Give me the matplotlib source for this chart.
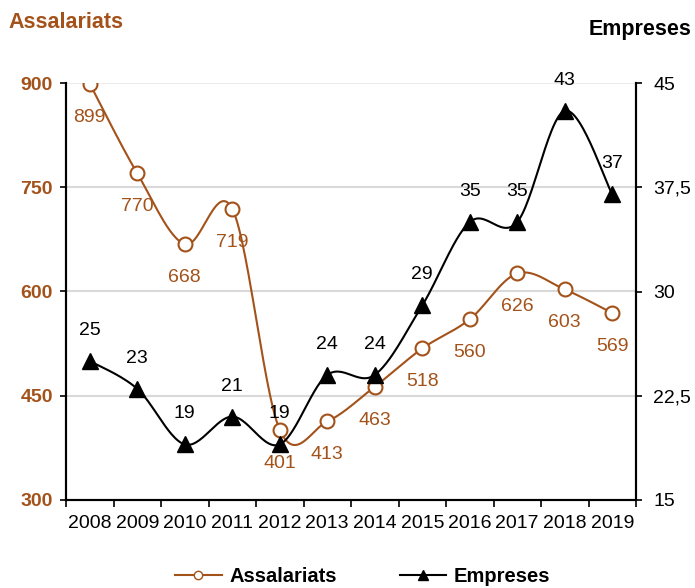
import numpy as np
import matplotlib
matplotlib.use('Agg')
import matplotlib.pyplot as plt
from matplotlib.lines import Line2D

years = ['2008', '2009', '2010', '2011', '2012', '2013', '2014', '2015', '2016', '2017', '2018', '2019']
assalariats = [899, 770, 668, 719, 401, 413, 463, 518, 560, 626, 603, 569]
empreses = [25, 23, 19, 21, 19, 24, 24, 29, 35, 35, 43, 37]
left_ticks = [300, 450, 600, 750, 900]
right_ticks = [15, 22.5, 30, 37.5, 45]
right_labels = ['15', '22,5', '30', '37,5', '45']

brown = '#A3521A'
plt.rcParams['font.family'] = ['Liberation Sans', 'DejaVu Sans']


def smooth(y, n=30):
    # excel style bezier smoothing (catmull-rom control points)
    x = np.arange(len(y), dtype=float)
    y = np.asarray(y, dtype=float)
    xs, ys = [], []
    for i in range(len(y) - 1):
        p0 = (x[max(i - 1, 0)], y[max(i - 1, 0)])
        p1 = (x[i], y[i])
        p2 = (x[i + 1], y[i + 1])
        p3 = (x[min(i + 2, len(y) - 1)], y[min(i + 2, len(y) - 1)])
        c1 = (p1[0] + (p2[0] - p0[0]) / 6, p1[1] + (p2[1] - p0[1]) / 6)
        c2 = (p2[0] - (p3[0] - p1[0]) / 6, p2[1] - (p3[1] - p1[1]) / 6)
        t = np.linspace(0, 1, n)
        for a, b, c, d, out in [(p1[0], c1[0], c2[0], p2[0], xs), (p1[1], c1[1], c2[1], p2[1], ys)]:
            out.extend((1 - t) ** 3 * a + 3 * (1 - t) ** 2 * t * b + 3 * (1 - t) * t ** 2 * c + t ** 3 * d)
    return xs, ys


fig = plt.figure(figsize=(6.95, 5.88), dpi=100)
ax = fig.add_axes([66 / 695, 1 - 500 / 588, 570 / 695, 417 / 588])
ax2 = ax.twinx()

x = np.arange(len(years))

ax.set_ylim(300, 900)
ax.set_xlim(-0.5, 11.5)
for v in left_ticks[1:-1]:
    ax.axhline(v, color='#d9d9d9', lw=1.5, zorder=0)
ax.axhline(left_ticks[-1], color='#ececec', lw=1.5, zorder=0)

sx, sy = smooth(assalariats)
ax.plot(sx, sy, color=brown, lw=1.5, zorder=2)
ax.plot(x, assalariats, 'o', ms=10, mfc='white', mec=brown, mew=1.5, zorder=3)
for xi, v in zip(x, assalariats):
    ax.annotate(str(v), (xi, v), xytext=(0, -24), textcoords='offset points',
                ha='center', va='center', fontsize=14, color=brown)

ax2.set_ylim(15, 45)
ex, ey = smooth(empreses)
ax2.plot(ex, ey, color='black', lw=1.5, zorder=2)
ax2.plot(x, empreses, '^', ms=11, color='black', zorder=3)
for xi, v in zip(x, empreses):
    ax2.annotate(str(v), (xi, v), xytext=(0, 22), textcoords='offset points',
                 ha='center', va='center', fontsize=14, color='black')

ax.set_yticks(left_ticks)
ax.set_yticklabels([str(v) for v in left_ticks], fontsize=14, fontweight='bold', color=brown)
ax.tick_params(axis='y', direction='out', length=4.5, width=1.2, pad=5)
ax2.set_yticks(right_ticks)
ax2.set_yticklabels(right_labels, fontsize=14)
ax2.tick_params(axis='y', direction='out', length=4.5, width=1.2, pad=8)

ax.set_xticks(np.arange(-0.5, 12, 1))
ax.set_xticklabels([])
ax.set_xticks(x, minor=True)
ax.set_xticklabels(years, minor=True, fontsize=14)
ax.tick_params(axis='x', which='major', direction='out', length=5, width=1.2)
ax.tick_params(axis='x', which='minor', length=0, pad=11)

for a in (ax, ax2):
    a.spines['top'].set_visible(False)
    for s in ('left', 'right', 'bottom'):
        a.spines[s].set_linewidth(1.5)

fig.text(8 / 695, 1 - 22 / 588, 'Assalariats', ha='left', va='center',
         fontsize=15.5, fontweight='bold', color=brown)
fig.text(692 / 695, 1 - 30 / 588, 'Empreses', ha='right', va='center',
         fontsize=15.5, fontweight='bold', color='black')

handles = [Line2D([], [], color=brown, lw=1.5, marker='o', ms=6, mfc='white', mec=brown),
           Line2D([], [], color='black', lw=1.5, marker='^', ms=7)]
fig.legend(handles, ['Assalariats', 'Empreses'], loc='center', bbox_to_anchor=(0.522, 1 - 577 / 588),
           ncol=2, frameon=False, handlelength=2.3, handletextpad=0.4, columnspacing=3.1,
           prop={'weight': 'bold', 'size': 14.5})

fig.savefig('out.png', dpi=100)
